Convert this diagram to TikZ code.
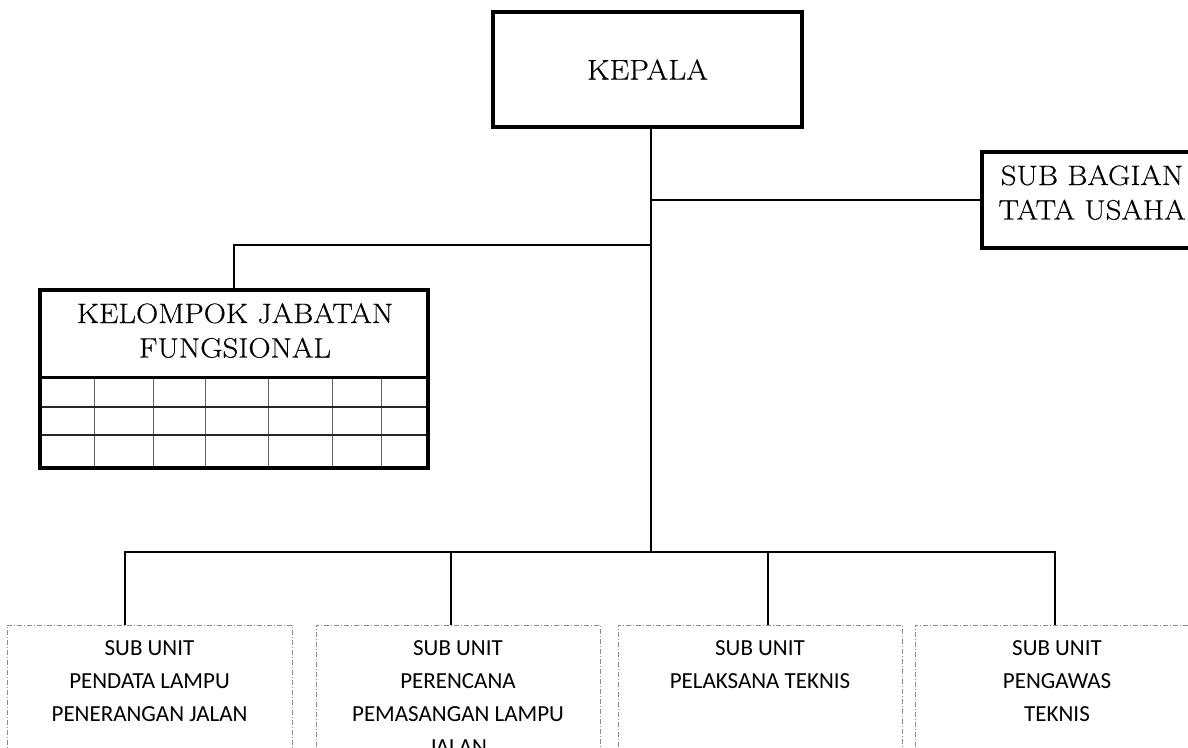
\documentclass[tikz,border=0pt]{standalone}
\usepackage{fontspec}
\newfontfamily\calfont{Carlito}
\newfontfamily\bkfont{Latin Modern Roman}[FakeStretch=1.1, FakeBold=0.4]
\tikzset{
  bigbox/.style={draw=black, line width=4pt, inner sep=0pt, outer sep=0pt},
  unitbox/.style={draw=black!45, line width=0.9pt, dash pattern=on 5pt off 2pt on 1pt off 2pt, inner sep=0pt, outer sep=0pt, minimum height=175pt},
  serif/.style={font=\bkfont\fontsize{28}{34.5}\selectfont, align=center, inner sep=0pt},
  unittext/.style={font=\calfont\fontsize{23}{33}\selectfont, align=center, inner sep=0pt, anchor=north},
  conn/.style={draw=black, line width=2.8pt},
  connthin/.style={draw=black, line width=2pt},
  rowline/.style={draw=black!85, line width=2pt},
  gridline/.style={draw=black!60, line width=0.8pt},
}
\begin{document}
\begin{tikzpicture}[x=1pt,y=-1pt]
\useasboundingbox (0,0) rectangle (1188,747);
\clip (0,0) rectangle (1188,747);
\fill[white] (0,0) rectangle (1188,747);

% top boxes
\node[bigbox, minimum width=309pt, minimum height=115pt, font=\bkfont\fontsize{28.5}{34}\selectfont] (kepala) at (647.5,69.5) {KEPALA};
\node[bigbox, minimum width=220pt, minimum height=96pt] (sb) at (1092,200) {};
\node[serif, anchor=north] (sbt) at (1092,165) {SUB BAGIAN\\TATA USAHA};

% kelompok jabatan fungsional
\foreach \x in {94,153,205,268,332,381} \draw[gridline] (\x,377) -- (\x,468);
\draw[rowline] (40,407) -- (428,407);
\draw[rowline] (40,435) -- (428,435);
\draw[line width=3pt] (40,377) -- (428,377);
\node[bigbox, minimum width=388pt, minimum height=178pt] (kjf) at (234,379) {};
\node[serif, anchor=north] (kjft) at (235,303) {KELOMPOK JABATAN\\FUNGSIONAL};

% bottom units
\node[unitbox, minimum width=285pt] (su1) at (149.5,712.5) {};
\node[unitbox, minimum width=284pt] (su2) at (458,712.5) {};
\node[unitbox, minimum width=284pt] (su3) at (760,712.5) {};
\node[unitbox, minimum width=284pt] (su4) at (1057,712.5) {};
\node[unittext] (su1t) at (149.5,640) {SUB UNIT\\PENDATA LAMPU\\PENERANGAN JALAN};
\node[unittext] (su2t) at (458,640) {SUB UNIT\\PERENCANA\\PEMASANGAN LAMPU\\JALAN};
\node[unittext] (su3t) at (760,640) {SUB UNIT\\PELAKSANA TEKNIS};
\node[unittext] (su4t) at (1057,640) {SUB UNIT\\PENGAWAS\\TEKNIS};

% connectors
\coordinate (k0) at (651,552);
\coordinate (b1) at (125,552);
\coordinate (b2) at (451,552);
\coordinate (b3) at (768,552);
\coordinate (b4) at (1055,552);
\coordinate (kb) at (233,245);
\draw[conn] (k0 |- kepala.south) -- (k0);
\draw[connthin] (k0 |- sb.west) -- (sb.west);
\draw[connthin] (k0 |- kb) -| (kjf.north);
\draw[conn] (b1 |- su1.north) -- (b1) -- (b4) -- (b4 |- su4.north);
\draw[conn] (b2) -- (b2 |- su2.north);
\draw[conn] (b3) -- (b3 |- su3.north);
\end{tikzpicture}
\end{document}
